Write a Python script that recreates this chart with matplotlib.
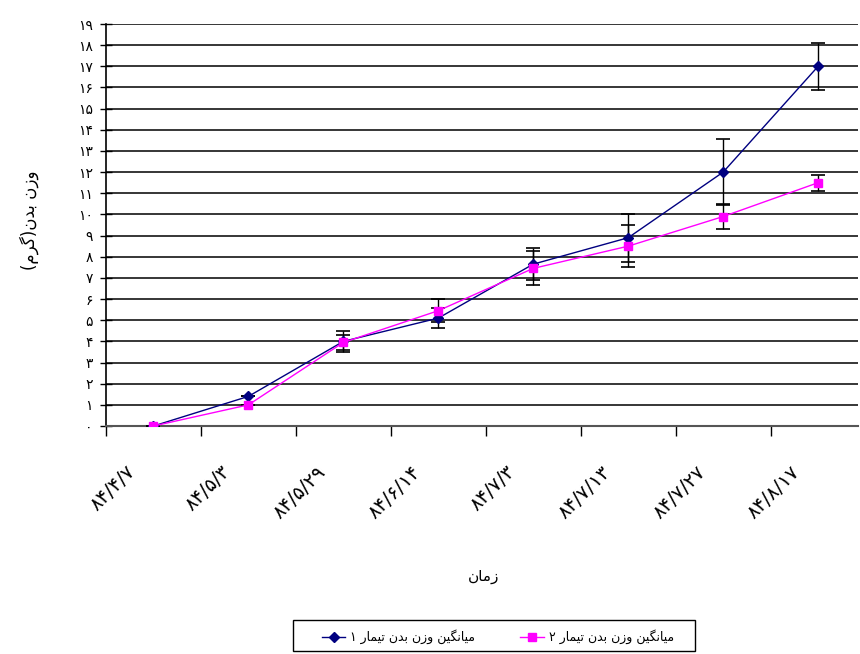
import matplotlib
matplotlib.use("Agg")
import matplotlib.pyplot as plt
from matplotlib.transforms import ScaledTranslation
from matplotlib.patches import Rectangle
import numpy as np

# ---------------- data ----------------
dates = ["۸۴/۴/۷", "۸۴/۵/۳", "۸۴/۵/۲۹", "۸۴/۶/۱۴", "۸۴/۷/۳", "۸۴/۷/۱۳", "۸۴/۷/۲۷", "۸۴/۸/۱۷"]
treat1 = [0.0, 1.4, 4.0, 5.1, 7.65, 8.9, 12.0, 17.0]
treat1_err = [0.0, 0.0, 0.48, 0.46, 0.75, 1.13, 1.55, 1.1]
treat2 = [0.0, 1.0, 3.95, 5.45, 7.45, 8.5, 9.9, 11.5]
treat2_err = [0.0, 0.0, 0.35, 0.54, 0.8, 1.0, 0.6, 0.38]
y_ticks = list(range(0, 20))
label1 = "میانگین وزن بدن تیمار ۱"
label2 = "میانگین وزن بدن تیمار ۲"
x_title = "زمان"
y_title = "وزن بدن(گرم)"

# ---------------- minimal Persian shaping (matplotlib has no complex text layout) ----------------
FORMS = {
    "ا": ("\uFE8D", "\uFE8E", None, None),
    "ب": ("\uFE8F", "\uFE90", "\uFE91", "\uFE92"),
    "ت": ("\uFE95", "\uFE96", "\uFE97", "\uFE98"),
    "د": ("\uFEA9", "\uFEAA", None, None),
    "ر": ("\uFEAD", "\uFEAE", None, None),
    "ز": ("\uFEAF", "\uFEB0", None, None),
    "م": ("\uFEE1", "\uFEE2", "\uFEE3", "\uFEE4"),
    "ن": ("\uFEE5", "\uFEE6", "\uFEE7", "\uFEE8"),
    "و": ("\uFEED", "\uFEEE", None, None),
    "گ": ("\uFB92", "\uFB93", "\uFB94", "\uFB95"),
    "ی": ("\uFBFC", "\uFBFD", "\uFBFE", "\uFBFF"),
}


def shape(text):
    out = []
    for i, ch in enumerate(text):
        if ch not in FORMS:
            out.append(ch)
            continue
        prev = text[i - 1] if i > 0 else ""
        nxt = text[i + 1] if i + 1 < len(text) else ""
        jp = prev in FORMS and FORMS[prev][2] is not None
        jn = FORMS[ch][2] is not None and nxt in FORMS
        iso, fin, ini, med = FORMS[ch]
        if jp and jn:
            out.append(med)
        elif jp:
            out.append(fin)
        elif jn:
            out.append(ini)
        else:
            out.append(iso)
    vis = "".join(reversed(out))
    mirror = {"(": ")", ")": "("}
    return "".join(mirror.get(c, c) for c in vis)


def fa_num(n):
    return "".join("۰۱۲۳۴۵۶۷۸۹"[int(d)] for d in str(n))


# ---------------- figure ----------------
plt.rcParams["font.family"] = ["DejaVu Sans"]
fig = plt.figure(figsize=(8.6, 6.54), dpi=100)
ax = fig.add_axes([106 / 860, 1 - 426 / 654, 752 / 860, 402 / 654])

x = np.arange(len(dates))
c1 = "#000080"
c2 = "#FF00FF"

ax.errorbar(x, treat1, yerr=treat1_err, fmt="none", ecolor="black", elinewidth=1.0,
            capsize=5, capthick=1.2, zorder=3)
ax.errorbar(x, treat2, yerr=treat2_err, fmt="none", ecolor="black", elinewidth=1.0,
            capsize=5, capthick=1.2, zorder=3)
l1, = ax.plot(x, treat1, color=c1, lw=1.0, marker="D", ms=5, mfc=c1, mec=c1, zorder=4,
              label=shape(label1))
l2, = ax.plot(x, treat2, color=c2, lw=1.0, marker="s", ms=6, mfc=c2, mec=c2, zorder=5,
              label=shape(label2))

ax.set_xlim(-0.5, 7.42)
ax.set_ylim(0, 19)

ax.set_yticks(y_ticks)
ax.set_yticklabels([fa_num(v) for v in y_ticks], fontsize=10)
ax.yaxis.grid(True, color="black", lw=1.1)
ax.set_axisbelow(True)

ax.set_xticks(np.arange(-0.5, 7.0, 1.0))
ax.set_xticklabels([])
ax.set_xticks(x, minor=True)
ax.set_xticklabels(dates, minor=True, rotation=45, ha="right", va="center",
                   rotation_mode="anchor", fontsize=14)
ax.tick_params(axis="x", which="minor", length=0, pad=31)
ax.tick_params(axis="x", which="major", length=7, width=1, direction="out", color="black")
ax.tick_params(axis="y", length=9, width=1, direction="inout", color="black", pad=5)
for lab in ax.get_xticklabels(minor=True):
    lab.set_transform(lab.get_transform() + ScaledTranslation(-0.21, 0, fig.dpi_scale_trans))

for s in ["top", "right"]:
    ax.spines[s].set_visible(False)
ax.spines["left"].set_color("black")
ax.spines["bottom"].set_color("#555555")
ax.spines["left"].set_linewidth(1.2)
ax.spines["bottom"].set_linewidth(1.5)

fig.text(29 / 860, 1 - 220 / 654, shape(y_title), rotation=90, ha="center", va="center",
         fontsize=12)
fig.text(484 / 860, 1 - 577 / 654, shape(x_title), ha="center", va="center", fontsize=11)

leg = fig.legend(handles=[l1, l2], loc="center", bbox_to_anchor=(498 / 860, 1 - 637 / 654),
                 ncol=2, fontsize=9, frameon=False,
                 handlelength=1.85, handletextpad=0.4, columnspacing=3.6)
fig.patches.append(Rectangle((293 / 860, 1 - 651 / 654), 402 / 860, 31 / 654,
                             transform=fig.transFigure, fill=False, edgecolor="black",
                             lw=1.0))

fig.savefig("out.png", dpi=100)
